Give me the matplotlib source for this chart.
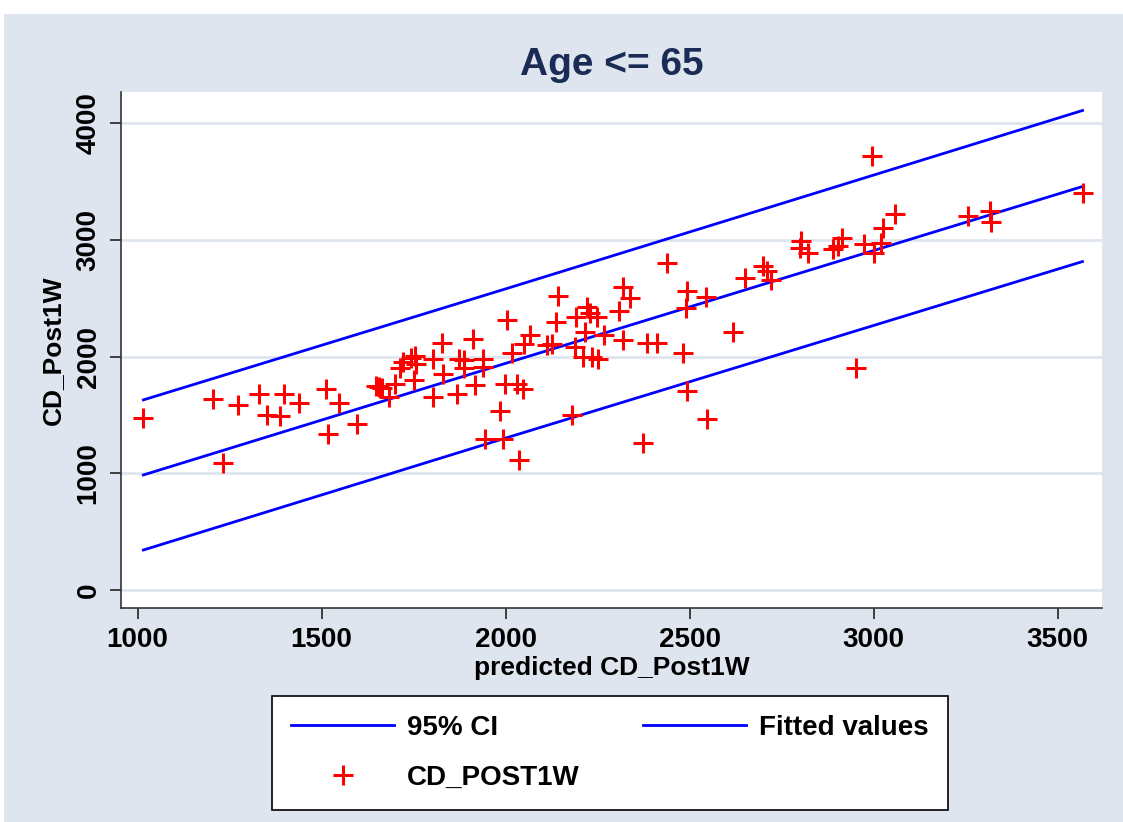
import matplotlib
matplotlib.use("Agg")
import matplotlib.pyplot as plt
from matplotlib.patches import Rectangle

plt.rcParams['font.family'] = ['Liberation Sans', 'DejaVu Sans']

pred_x = [1016, 1204, 1231, 1273, 1331, 1353, 1387, 1398, 1439, 1512,
          1518, 1547, 1595, 1647, 1655, 1665, 1684, 1700, 1713, 1720,
          1742, 1754, 1756, 1752, 1802, 1803, 1826, 1831, 1867, 1872,
          1887, 1887, 1910, 1917, 1939, 1939, 1944, 1986, 1992, 1998,
          2004, 2016, 2030, 2037, 2046, 2050, 2066, 2113, 2125, 2138,
          2143, 2179, 2188, 2191, 2211, 2215, 2222, 2229, 2234, 2249,
          2252, 2268, 2309, 2318, 2318, 2339, 2372, 2385, 2412, 2437,
          2481, 2490, 2492, 2493, 2544, 2546, 2618, 2650, 2700, 2709,
          2722, 2799, 2801, 2822, 2890, 2903, 2915, 2951, 2973, 2996,
          3000, 3021, 3024, 3057, 3255, 3315, 3318, 3569]
cd_post1w = [1477, 1634, 1091, 1583, 1680, 1500, 1491, 1680, 1600, 1720,
             1337, 1600, 1426, 1752, 1742, 1730, 1655, 1765, 1900, 1957,
             1985, 2005, 1935, 1800, 1655, 1978, 2115, 1851, 1676, 1975,
             1971, 1905, 2152, 1760, 1978, 1909, 1292, 1534, 1292, 1766,
             2311, 2034, 1766, 1114, 1720, 2105, 2186, 2100, 2108, 2300,
             2520, 1500, 2078, 2343, 2000, 2214, 2425, 2372, 2000, 2343,
             1980, 2186, 2394, 2600, 2140, 2500, 1263, 2120, 2120, 2800,
             2029, 2414, 1708, 2565, 2509, 1463, 2214, 2671, 2777, 2729,
             2657, 2929, 2986, 2891, 2920, 2949, 3014, 1900, 2966, 3720,
             2891, 2972, 3100, 3223, 3206, 3243, 3157, 3405]

# fitted line and 95% CI band
line_x = [1016, 2000, 3567]
fitted = [986, 1942, 3457]
ci_upper = [1629, 2580, 4108]
ci_lower = [343, 1302, 2814]

x_ticks = [1000, 1500, 2000, 2500, 3000, 3500]
y_ticks = [0, 1000, 2000, 3000, 4000]

bg = '#dfe5ef'
fig = plt.figure(figsize=(11.23, 8.22), dpi=100, facecolor='white')
fig.patches.append(Rectangle((4 / 1123, 0), 1, 808 / 822, transform=fig.transFigure,
                             facecolor=bg, edgecolor='none', zorder=-10))

ax = fig.add_axes([0.1077, 0.2603, 0.8736, 0.628])
ax.set_facecolor('white')

ci1, = ax.plot(line_x, ci_upper, color='#0000ff', lw=2, label='95% CI')
ax.plot(line_x, ci_lower, color='#0000ff', lw=2)
fit, = ax.plot(line_x, fitted, color='#0000ff', lw=2, label='Fitted values')
pts, = ax.plot(pred_x, cd_post1w, linestyle='none', marker='+', color='#ff0000',
               markersize=15, markeredgewidth=2.2, label='CD_POST1W')

ax.set_xlim(955, 3620)
ax.set_ylim(-154, 4268)
ax.set_xticks(x_ticks)
ax.set_yticks(y_ticks)
ax.grid(axis='y', color=bg, linewidth=2)
ax.set_axisbelow(True)

for s in ['top', 'right']:
    ax.spines[s].set_visible(False)
for s in ['left', 'bottom']:
    ax.spines[s].set_color('#333333')
    ax.spines[s].set_linewidth(1.2)

ax.tick_params(direction='out', length=8, width=1.2, color='#222222',
               labelsize=20, pad=6)
for lab in ax.get_xticklabels():
    lab.set_fontweight('bold')
for lab in ax.get_yticklabels():
    lab.set_fontweight('bold')
    lab.set_rotation(90)
    lab.set_va('center')

ax.set_xlabel('predicted CD_Post1W', fontsize=19, fontweight='bold', labelpad=2)
ax.set_ylabel('CD_Post1W', fontsize=19, fontweight='bold', labelpad=8)

fig.text(0.545, 0.921, 'Age <= 65', ha='center', va='center', fontsize=28,
         fontweight='bold', color='#1a2c55')

leg = fig.legend(handles=[ci1, pts, fit], loc='center', bbox_to_anchor=(0.543, 0.084),
                 ncol=2, frameon=True, fancybox=False, edgecolor='black',
                 facecolor='white', framealpha=1,
                 handlelength=3.7, handletextpad=0.45, columnspacing=2.3,
                 borderpad=0.7, labelspacing=0.85,
                 prop={'weight': 'bold', 'size': 20})
leg.get_frame().set_linewidth(1.2)

fig.savefig('out.png', dpi=100, facecolor=fig.get_facecolor())
